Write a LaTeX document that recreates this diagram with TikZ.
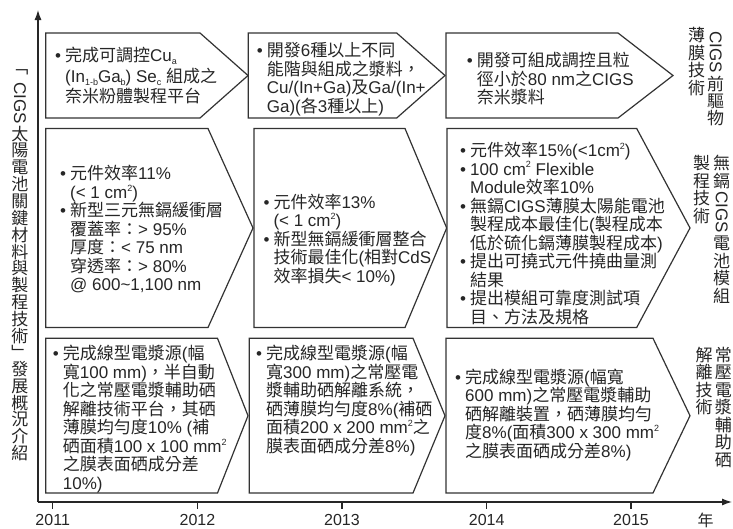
\documentclass[tikz,border=0pt]{standalone}
\usepackage{fontspec}
\usepackage{graphicx}
\usetikzlibrary{arrows.meta}
\setmainfont{Liberation Sans}
\newfontfamily\cjkfont{Noto Sans CJK TC}
\newfontfamily\latfont{Liberation Sans}
\makeatletter
\chardef\CJKcls=42
\def\setcls#1#2{\count@=#1\relax\loop\XeTeXcharclass\count@=\CJKcls\relax\ifnum\count@<#2\relax\advance\count@\@ne\repeat}
\setcls{"3000}{"303F}
\setcls{"4E00}{"9FFF}
\setcls{"FE30}{"FE4F}
\setcls{"FF00}{"FFEF}
\makeatother
\XeTeXinterchartoks 0 \CJKcls = {\cjkfont}
\XeTeXinterchartoks 4095 \CJKcls = {\cjkfont}
\XeTeXinterchartoks \CJKcls 0 = {\latfont}
\XeTeXinterchartoks 4095 0 = {\latfont}
\XeTeXinterchartokenstate=1
\newcommand\B{\makebox[10pt][l]{•}}
\newcommand\I{\hspace*{10pt}}
\newcommand\sps[1]{\raisebox{0.42em}{\fontsize{9}{9}\selectfont #1}}
\newcommand\sbs[1]{\raisebox{-0.2em}{\fontsize{9}{9}\selectfont #1}}
\newlength\cellw \setlength\cellw{18pt}
\newlength\cellh \setlength\cellh{17.5pt}
\newcommand\cc[1]{\vbox to\cellh{\vss\hbox to\cellw{\hss\cjkfont #1\hss}\vss}}
\newcommand\rc[1]{\vbox{\kern1.5pt\hbox to\cellw{\hss\rotatebox{-90}{\latfont #1}\hss}\kern1.5pt}}
\newcommand\vcol[1]{\vbox{\offinterlineskip #1}}
\tikzset{
 box/.style={draw=black!80, line width=1.2pt, fill=white, line join=miter},
 txt/.style={anchor=base west, inner sep=0pt, align=left, text=black!85, font=\fontsize{17}{18.5}\selectfont},
 vlab/.style={anchor=north, inner sep=0pt, text=black!85, font=\fontsize{17}{18}\selectfont},
 axis/.style={draw=black!85, line width=1.2pt},
 year/.style={inner sep=0pt, text=black!85, font=\fontsize{16}{16}\selectfont},
}
\begin{document}
\begin{tikzpicture}[x=1pt,y=-1pt]
\fill[white] (0,0) rectangle (733,528);
\useasboundingbox (0,0) rectangle (733,528);
% axes
\coordinate (O) at (38,502);
\coordinate (Ytop) at (38,10);
\coordinate (Xend) at (732,502);
\draw[axis,-{Latex[length=10pt,width=7pt]}] (O) -- (Ytop);
\draw[axis,-{Latex[length=10pt,width=7pt]}] (O) -- (Xend);
\foreach \x/\yr in {52.7/2011,197.5/2012,342/2013,486.7/2014,631/2015}{
  \coordinate (ta\yr) at (\x,502);
  \coordinate (tb\yr) at (\x,509);
  \draw[axis] (ta\yr) -- (tb\yr);
  \node[year] (y\yr) at (\x,520) {\yr};
}
\node[year] (nian) at (705.7,520) {年};
% row 1 boxes
\draw[box] (45.7,33) -- (200,33) -- (248,75.5) -- (200,118) -- (45.7,118) -- cycle;
\draw[box] (248.3,33) -- (396.7,33) -- (445,75.5) -- (396.7,118) -- (248.3,118) -- cycle;
\draw[box] (446,33) -- (618,33) -- (673,75.5) -- (618,118) -- (446,118) -- cycle;
% row 2 boxes
\draw[box] (45.7,128.5) -- (208,128.5) -- (253,228) -- (208,327.5) -- (45.7,327.5) -- cycle;
\draw[box] (254,128.5) -- (405,128.5) -- (446.7,228) -- (405,327.5) -- (254,327.5) -- cycle;
\draw[box] (447,128.5) -- (636.7,128.5) -- (690,228) -- (636.7,327.5) -- (447,327.5) -- cycle;
% row 3 boxes
\draw[box] (45.7,338.3) -- (217.5,338.3) -- (248,415.7) -- (217.5,493) -- (45.7,493) -- cycle;
\draw[box] (249.3,338.3) -- (413,338.3) -- (445,415.7) -- (413,493) -- (249.3,493) -- cycle;
\draw[box] (446,338.3) -- (653,338.3) -- (690,415.7) -- (653,493) -- (446,493) -- cycle;
% texts row 1 (anchor = baseline of last line)
\node[txt,font=\fontsize{17}{20.5}\selectfont] (t11) at (55,102.5) {\B 完成可調控Cu\sbs{a}\\
\I (In\sbs{1-b}Ga\sbs{b}) Se\sbs{c} 組成之\\
\I 奈米粉體製程平台};
\node[txt] (t12) at (256.7,112) {\B 開發6種以上不同\\
\I 能階與組成之漿料，\\
\I Cu/(In+Ga)及Ga/(In+\\
\I Ga)(各3種以上)};
\node[txt] (t13) at (466.7,103.5) {\B 開發可組成調控且粒\\
\I 徑小於80 nm之CIGS\\
\I 奈米漿料};
% texts row 2
\node[txt] (t21) at (60,290.8) {\B 元件效率11\%\\
\I (< 1 cm\sps{2})\\
\B 新型三元無鎘緩衝層\\
\I 覆蓋率：> 95\%\\
\I 厚度：< 75 nm\\
\I 穿透率：> 80\%\\
\I @ 600\textasciitilde 1,100 nm};
\node[txt] (t22) at (263.3,282.2) {\B 元件效率13\%\\
\I (< 1 cm\sps{2})\\
\B 新型無鎘緩衝層整合\\
\I 技術最佳化(相對CdS\\
\I 效率損失< 10\%)};
\node[txt] (t23) at (460,323) {\B 元件效率15\%(<1cm\sps{2})\\
\B 100 cm\sps{2} Flexible\\
\I Module效率10\%\\
\B 無鎘CIGS薄膜太陽能電池\\
\I 製程成本最佳化(製程成本\\
\I 低於硫化鎘薄膜製程成本)\\
\B 提出可撓式元件撓曲量測\\
\I 結果\\
\B 提出模組可靠度測試項\\
\I 目、方法及規格};
% texts row 3
\node[txt] (t31) at (52.7,489.3) {\B 完成線型電漿源(幅\\
\I 寬100 mm)，半自動\\
\I 化之常壓電漿輔助硒\\
\I 解離技術平台，其硒\\
\I 薄膜均勻度10\% (補\\
\I 硒面積100 x 100 mm\sps{2}\\
\I 之膜表面硒成分差\\
\I 10\%)};
\node[txt] (t32) at (256,452.3) {\B 完成線型電漿源(幅\\
\I 寬300 mm)之常壓電\\
\I 漿輔助硒解離系統，\\
\I 硒薄膜均勻度8\%(補硒\\
\I 面積200 x 200 mm\sps{2}之\\
\I 膜表面硒成分差8\%)};
\node[txt] (t33) at (455,457.2) {\B 完成線型電漿源(幅寬\\
\I 600 mm)之常壓電漿輔助\\
\I 硒解離裝置，硒薄膜均勻\\
\I 度8\%(面積300 x 300 mm\sps{2}\\
\I 之膜表面硒成分差8\%)};
% right vertical labels
\node[vlab] (r1a) at (715.7,30) {\vcol{\rc{CIGS}\cc{前}\cc{驅}\cc{物}}};
\node[vlab] (r1b) at (696.7,26.5) {\vcol{\cc{薄}\cc{膜}\cc{技}\cc{術}}};
\node[vlab] (r2a) at (721.7,154.5) {\vcol{\cc{無}\cc{鎘}\rc{CIGS}\cc{電}\cc{池}\cc{模}\cc{組}}};
\node[vlab] (r2b) at (701.7,154.5) {\vcol{\cc{製}\cc{程}\cc{技}\cc{術}}};
\node[vlab] (r3a) at (723.3,346) {\vcol{\cc{常}\cc{壓}\cc{電}\cc{漿}\cc{輔}\cc{助}\cc{硒}}};
\node[vlab] (r3b) at (704,346) {\vcol{\cc{解}\cc{離}\cc{技}\cc{術}}};
% left vertical title
\node[vlab] (left) at (20,64) {\setlength\cellh{16.8pt}\vcol{\cc{﹁}\rc{CIGS}\cc{太}\cc{陽}\cc{電}\cc{池}\cc{關}\cc{鍵}\cc{材}\cc{料}\cc{與}\cc{製}\cc{程}\cc{技}\cc{術}\cc{﹂}\cc{發}\cc{展}\cc{概}\cc{況}\cc{介}\cc{紹}}};
\end{tikzpicture}
\end{document}
